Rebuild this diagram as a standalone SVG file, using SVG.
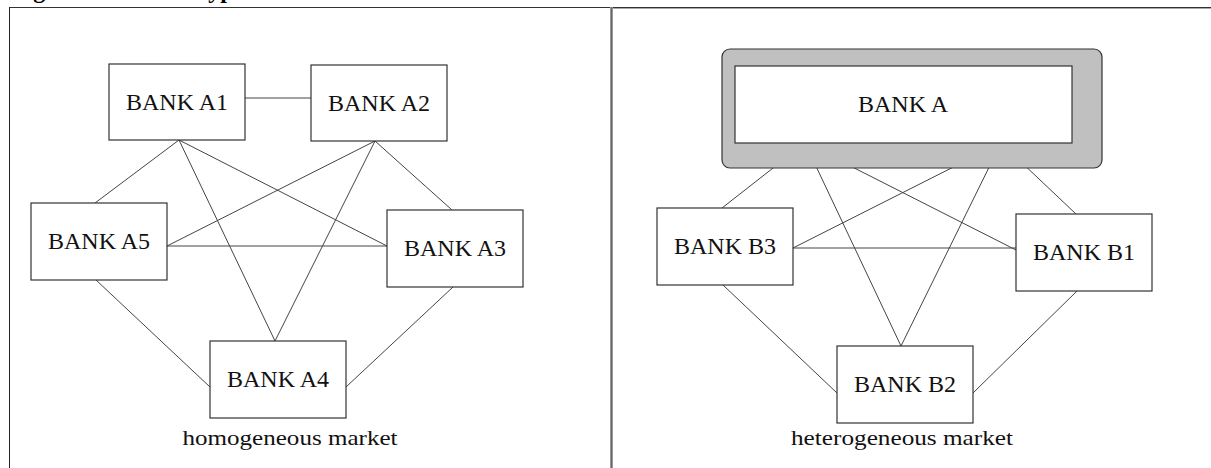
<svg xmlns="http://www.w3.org/2000/svg" width="1211" height="468" viewBox="0 0 1211 468">
<style>
.box{fill:#fff;stroke:#333;stroke-width:1.2}
.lbl{font-family:'Liberation Serif','Times New Roman','DejaVu Serif',serif;font-size:24px;fill:#111;text-anchor:middle}
.cap{font-family:'Liberation Serif','Times New Roman','DejaVu Serif',serif;font-size:22px;fill:#111;text-anchor:middle}
.ttl{font-family:'Liberation Serif','Times New Roman','DejaVu Serif',serif;font-size:24px;font-weight:bold;fill:#000}
#connectors line{stroke:#444;stroke-width:1}
</style>
<rect width="1211" height="468" fill="#fff"/>
<text class="ttl" x="12" y="-2">Figure</text>
<text class="ttl" x="194" y="-2">Types</text>
<g id="frame">
<line x1="9" y1="7.5" x2="1211" y2="7.5" stroke="#333" stroke-width="1"/>
<line x1="612" y1="8.5" x2="1211" y2="8.5" stroke="#aaa" stroke-width="1"/>
<line x1="9.5" y1="7" x2="9.5" y2="468" stroke="#222" stroke-width="1"/>
<rect x="610" y="7" width="3" height="461" fill="#999"/>
<line x1="611.5" y1="7" x2="611.5" y2="468" stroke="#666" stroke-width="1"/>
</g>
<g id="connectors">
<line x1="245" y1="98" x2="311" y2="98"/>
<line x1="179" y1="140" x2="95" y2="203"/>
<line x1="179" y1="140" x2="275" y2="341"/>
<line x1="179" y1="140" x2="387" y2="246"/>
<line x1="375" y1="141" x2="167" y2="246"/>
<line x1="375" y1="141" x2="275" y2="341"/>
<line x1="375" y1="141" x2="452" y2="210"/>
<line x1="167" y1="246" x2="387" y2="246"/>
<line x1="96" y1="280" x2="210" y2="387"/>
<line x1="453" y1="287" x2="346" y2="387"/>
<line x1="805" y1="143" x2="722" y2="208"/>
<line x1="805" y1="143" x2="901" y2="346"/>
<line x1="805" y1="143" x2="1016" y2="250"/>
<line x1="1001" y1="143" x2="793" y2="248"/>
<line x1="1001" y1="143" x2="901" y2="346"/>
<line x1="1001" y1="143" x2="1076" y2="214"/>
<line x1="793" y1="248" x2="1016" y2="248"/>
<line x1="723" y1="285" x2="837" y2="393"/>
<line x1="1077" y1="291" x2="973" y2="393"/>
</g>
<g id="bankA1"><rect class="box" x="109" y="64" width="136" height="76"/><text class="lbl" x="177" y="110">BANK A1</text></g>
<g id="bankA2"><rect class="box" x="311" y="65" width="136" height="76"/><text class="lbl" x="379" y="111">BANK A2</text></g>
<g id="bankA5"><rect class="box" x="31" y="203" width="136" height="77"/><text class="lbl" x="99" y="249">BANK A5</text></g>
<g id="bankA3"><rect class="box" x="387" y="210" width="136" height="77"/><text class="lbl" x="455" y="256">BANK A3</text></g>
<g id="bankA4"><rect class="box" x="210" y="341" width="136" height="77"/><text class="lbl" x="278" y="387">BANK A4</text></g>
<g id="bankA"><rect x="722" y="49" width="380" height="119" rx="8" fill="#c0c0c0" stroke="#333" stroke-width="1.2"/><rect class="box" x="735" y="66" width="337" height="77"/><text class="lbl" x="903" y="112">BANK A</text></g>
<g id="bankB3"><rect class="box" x="657" y="208" width="136" height="77"/><text class="lbl" x="725" y="254">BANK B3</text></g>
<g id="bankB1"><rect class="box" x="1016" y="214" width="136" height="77"/><text class="lbl" x="1084" y="260">BANK B1</text></g>
<g id="bankB2"><rect class="box" x="837" y="346" width="136" height="77"/><text class="lbl" x="905" y="392">BANK B2</text></g>
<text class="cap" x="290" y="445" textLength="215" lengthAdjust="spacingAndGlyphs">homogeneous market</text>
<text class="cap" x="902" y="445" textLength="222" lengthAdjust="spacingAndGlyphs">heterogeneous market</text>
</svg>
